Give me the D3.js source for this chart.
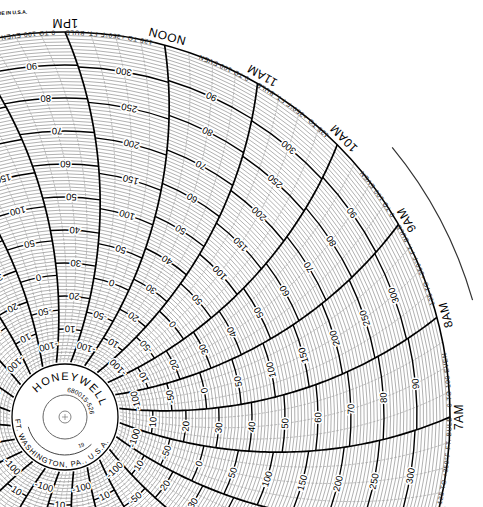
<!DOCTYPE html>
<html><head><meta charset="utf-8">
<script src="https://cdn.jsdelivr.net/npm/d3@7"></script>
<style>body{margin:0;background:#fff}svg{display:block}</style>
</head><body>
<svg id="c" width="483" height="507"></svg>
<script>
const hourNames = ["7AM","8AM","9AM","10AM","11AM","NOON","1PM","2PM","3PM","4PM","5PM","6PM","7PM","8PM","9PM","10PM","11PM","MID.","1AM","2AM","3AM","4AM","5AM","6AM"];
const evenLabels = [10,20,30,40,50,60,70,80,90];
const bulbLabels = [-100,-50,0,50,100,150,200,250,300];
const evenDomain = [0,100];
const bulbDomain = [-125,350];
const evenTitle = "0 TO 100 EVEN";
const bulbTitle = "-125 TO +350°F FT. BULB";

const W=483,H=507, cx=65, cy=417, r0=55, R=385;
const svg=d3.select("#c");
const g=svg.append("g").attr("transform",`translate(${cx},${cy})`);
const evenR=d3.scaleLinear().domain(evenDomain).range([r0,R]);
const bulbR=d3.scaleLinear().domain(bulbDomain).range([r0,R]);
const timeA=d3.scaleLinear().domain([0,24]).range([0,-2*Math.PI]);
const armA=380, armD=400;
function gam(r){const c=(r*r+armD*armD-armA*armA)/(2*r*armD);return Math.acos(Math.max(-1,Math.min(1,c)));}
const gR=gam(R);
function off(r){return 0.85*(gam(r)-gR);}
function ang(t,r){return timeA(t)+off(r);}
function pt(a,r){return [r*Math.cos(a),r*Math.sin(a)];}
const deg=a=>a*180/Math.PI;
const FONT="Liberation Sans, Arial";

const layer=g.append("g");
function arcPath(a1,a2,r){const p1=pt(a1,r),p2=pt(a2,r);return `M${p1}A${r},${r} 0 0 0 ${p2}`;}
for(let h=0;h<24;h++){
  const even=(h%2===0);
  const sc=even?evenR:bulbR;
  const dom=even?evenDomain:bulbDomain;
  const step=even?1:5, major=even?10:50;
  for(let v=dom[0];v<=dom[1];v+=step){
    const r=sc(v); if(r<=r0+0.5||r>=R-0.5) continue;
    if(((v%major)+major)%major===0) continue;
    const o=off(r);
    layer.append("path").attr("d",arcPath(timeA(h)+o,timeA(h+1)+o,r))
      .attr("fill","none").attr("stroke","#6f6f6f").attr("stroke-width",0.55);
  }
}
const line=d3.line();
const rs=d3.range(r0,R+0.01,4).concat([R]);
for(let q=0;q<96;q++){
  if(q%4===0) continue;
  const t=q/4;
  layer.append("path").attr("d",line(rs.map(r=>pt(ang(t,r),r))))
    .attr("fill","none").attr("stroke","#999").attr("stroke-width",0.6).attr("stroke-dasharray","3,1.2");
}
for(let h=0;h<24;h++){
  const even=(h%2===0);
  const sc=even?evenR:bulbR, labs=even?evenLabels:bulbLabels;
  labs.forEach(v=>{const r=sc(v);const o=off(r);
    layer.append("path").attr("d",arcPath(timeA(h)+o,timeA(h+1)+o,r))
      .attr("fill","none").attr("stroke","#000").attr("stroke-width",1.4);});
}
for(let h=0;h<24;h++){
  layer.append("path").attr("d",line(rs.map(r=>pt(ang(h,r),r))))
    .attr("fill","none").attr("stroke","#000").attr("stroke-width",1.7);
}
for(let h=0;h<24;h++){
  const even=(h%2===0);
  const sc=even?evenR:bulbR, labs=even?evenLabels:bulbLabels;
  labs.forEach(v=>{const r=sc(v);const a=ang(h+0.5,r);const p=pt(a,r);
    g.append("text").attr("transform",`translate(${p}) rotate(${deg(a)-90})`)
     .attr("text-anchor","middle").attr("dy","0.35em")
     .attr("font-family",FONT).attr("font-size",9.5)
     .attr("stroke","#fff").attr("stroke-width",3).attr("paint-order","stroke")
     .text(v);});
}
g.append("circle").attr("r",R).attr("fill","none").attr("stroke","#000").attr("stroke-width",1.6);
const defs=svg.append("defs");
for(let h=0;h<24;h++){
  const even=(h%2===0);
  defs.append("path").attr("id","rt"+h).attr("d",arcPath(timeA(h)-0.01,timeA(h+1),381));
  g.append("text").attr("font-family",FONT).attr("font-size",6.5).attr("fill","#222").attr("letter-spacing",0.6)
   .attr("dy","5.5").append("textPath").attr("href","#rt"+h).attr("startOffset",6).text(even?evenTitle:bulbTitle);
}
hourNames.forEach((n,h)=>{const a=timeA(h);const p=pt(a,R+9);
  g.append("text").attr("transform",`translate(${p}) rotate(${deg(a)-90})`)
   .attr("text-anchor","middle").attr("dy","0.35em").attr("font-family",FONT)
   .attr("font-size",12).attr("letter-spacing",0.5).text(n);});
g.append("path").attr("d",`M${pt(-39.5*Math.PI/180,424)}A424,424 0 0 1 ${pt(-16*Math.PI/180,424)}`)
 .attr("fill","none").attr("stroke","#333").attr("stroke-width",1.2);
g.append("circle").attr("r",53).attr("fill","#fff").attr("stroke","#000").attr("stroke-width",1.3);
g.append("circle").attr("r",22).attr("fill","none").attr("stroke","#666").attr("stroke-width",1);
g.append("circle").attr("r",6).attr("fill","none").attr("stroke","#666").attr("stroke-width",0.8);
g.append("path").attr("d","M-3,0H3M0,-3V3").attr("stroke","#666").attr("stroke-width",0.6);
g.append("path").attr("d",`M${pt(165*Math.PI/180,38)}A38,38 0 0 0 ${pt(46*Math.PI/180,38)}`)
 .attr("fill","none").attr("stroke","#444").attr("stroke-width",1);
defs.append("path").attr("id","hw").attr("d",`M${pt(-140*Math.PI/180,37)}A37,37 0 0 1 ${pt(-15*Math.PI/180,37)}`);
g.append("text").attr("font-family",FONT).attr("font-size",11).attr("letter-spacing",1.2)
 .append("textPath").attr("href","#hw").attr("startOffset","50%").attr("text-anchor","middle").text("HONEYWELL");
defs.append("path").attr("id","pn").attr("d",`M${pt(-120*Math.PI/180,25)}A25,25 0 0 1 ${pt(0,25)}`);
g.append("text").attr("font-family",FONT).attr("font-size",6.5)
 .append("textPath").attr("href","#pn").attr("startOffset","62%").attr("text-anchor","middle").text("680015-526");
defs.append("path").attr("id","ft").attr("d",`M${pt(178*Math.PI/180,50)}A50,50 0 0 0 ${pt(28*Math.PI/180,50)}`);
g.append("text").attr("font-family",FONT).attr("font-size",7.5).attr("letter-spacing",0.9)
 .append("textPath").attr("href","#ft").attr("startOffset","50%").attr("text-anchor","middle").text("FT. WASHINGTON, PA., U.S.A.");
g.append("text").attr("x",14).attr("y",31).attr("font-family",FONT).attr("font-size",5.5)
 .attr("transform","rotate(-20 14 31)").text("19");
svg.append("text").attr("x",-10).attr("y",15).attr("font-family",FONT).attr("font-size",5).attr("font-weight","bold")
 .attr("transform","rotate(-3 0 15)").text("MADE IN U.S.A.");
</script>
</body></html>
